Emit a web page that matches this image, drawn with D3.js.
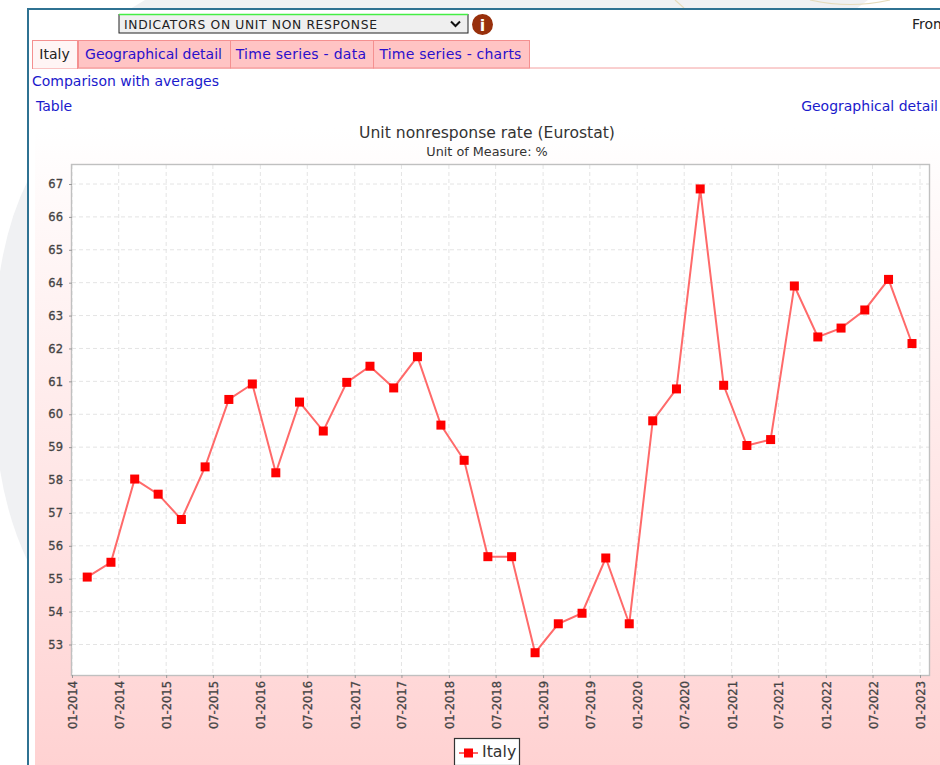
<!DOCTYPE html>
<html>
<head>
<meta charset="utf-8">
<script src="https://cdn.jsdelivr.net/npm/d3@7"></script>
<style>
html,body{margin:0;padding:0;background:#fff;overflow:hidden}
svg{display:block}
text{font-family:"DejaVu Sans",sans-serif}
</style>
</head>
<body>
<svg id="c" width="940" height="765"></svg>
<script>
const chartTitle = "Unit nonresponse rate (Eurostat)";
const chartSubtitle = "Unit of Measure: %";
const seriesName = "Italy";
const periods = ["2014-03","2014-06","2014-09","2014-12","2015-03","2015-06","2015-09","2015-12","2016-03","2016-06","2016-09","2016-12","2017-03","2017-06","2017-09","2017-12","2018-03","2018-06","2018-09","2018-12","2019-03","2019-06","2019-09","2019-12","2020-03","2020-06","2020-09","2020-12","2021-03","2021-06","2021-09","2021-12","2022-03","2022-06","2022-09","2022-12"];
const values = [55.05,55.5,58.03,57.57,56.8,58.4,60.45,60.92,58.22,60.37,59.49,60.97,61.46,60.8,61.75,59.67,58.6,55.67,55.67,52.75,53.63,53.95,55.63,53.63,59.8,60.77,66.85,60.88,59.05,59.23,63.9,62.35,62.62,63.17,64.1,62.15];
const xTickLabels = ["01-2014","07-2014","01-2015","07-2015","01-2016","07-2016","01-2017","07-2017","01-2018","07-2018","01-2019","07-2019","01-2020","07-2020","01-2021","07-2021","01-2022","07-2022","01-2023"];
const yTickValues = [53,54,55,56,57,58,59,60,61,62,63,64,65,66,67];
const tabLabels = ["Italy","Geographical detail","Time series - data","Time series - charts"];
const tabEdges = [32,78,230,373,529];
const tabSpacing = [0,0,0.28,0.22];

const svg = d3.select("#c");
const defs = svg.append("defs");
const grad = defs.append("linearGradient").attr("id","bg").attr("x1",0).attr("x2",0).attr("y1",0).attr("y2",1);
grad.append("stop").attr("offset","0%").attr("stop-color","#ffffff");
grad.append("stop").attr("offset","100%").attr("stop-color","#ffd2d2");

// page backdrop
svg.append("path").attr("d","M145,0H868L856,9H130Z").attr("fill","#f0f1f3");
svg.append("path").attr("d","M675,0L684,8").attr("fill","none").attr("stroke","#e6dcbc").attr("stroke-width",1.2);
svg.append("path").attr("d","M810,0Q850,9 890,0").attr("fill","none").attr("stroke","#e6dcbc").attr("stroke-width",1.2);
svg.append("path").attr("d","M28,180Q8,220 0,272V470Q8,520 28,562Z").attr("fill","#f0f1f3");

// content panel
svg.append("rect").attr("x",28).attr("y",9).attr("width",912).attr("height",756).attr("fill","#fff");
svg.append("path").attr("d","M28,765V9H940").attr("fill","none").attr("stroke","#2f7292").attr("stroke-width",2);

// selector
const sel = svg.append("g");
sel.append("rect").attr("x",119).attr("y",14.5).attr("width",349).attr("height",18.5).attr("fill","#efefef").attr("stroke","#222");
sel.append("line").attr("x1",119).attr("x2",468).attr("y1",14.5).attr("y2",14.5).attr("stroke","#44ee44").attr("stroke-width",1.5);
sel.append("text").attr("x",124).attr("y",28.5).attr("font-size",12.3).attr("letter-spacing",0.65).attr("fill","#222").text("INDICATORS ON UNIT NON RESPONSE");
sel.append("path").attr("d","M451,21.5l4.5,4.5l4.5,-4.5").attr("fill","none").attr("stroke","#111").attr("stroke-width",2);
svg.append("circle").attr("cx",482.5).attr("cy",24.5).attr("r",10.5).attr("fill","#98300c");
svg.append("text").attr("x",482.5).attr("y",30.5).attr("text-anchor","middle").attr("font-size",16).attr("font-weight","bold").attr("fill","#fff").text("i");
svg.append("text").attr("x",912).attr("y",29).attr("font-size",14).attr("fill","#222").text("From");

// tabs
svg.append("line").attr("x1",32).attr("x2",940).attr("y1",68).attr("y2",68).attr("stroke","#f4a0a0");
tabLabels.forEach((t,i)=>{
  const x0=tabEdges[i], x1=tabEdges[i+1];
  svg.append("rect").attr("x",x0+.5).attr("y",40.5).attr("width",x1-x0-1+(i===0?0:1)).attr("height",i===0?28:27.5)
    .attr("fill",i===0?"#fff5f5":"#ffc4c4").attr("stroke","#f49090");
  svg.append("text").attr("x",(x0+x1)/2-0.5).attr("y",59).attr("text-anchor","middle").attr("font-size",14)
    .attr("letter-spacing",tabSpacing[i]).attr("fill",i===0?"#222":"#2a10cc").text(t);
});
svg.append("line").attr("x1",33).attr("x2",77).attr("y1",68).attr("y2",68).attr("stroke","#fff5f5");
const link=(x,y,t,a)=>svg.append("text").attr("x",x).attr("y",y).attr("text-anchor",a||"start").attr("font-size",14).attr("fill","#1a1acc").text(t);
link(32,86,"Comparison with averages");
link(36,111,"Table");
link(938,111,"Geographical detail","end");

// chart background
svg.append("rect").attr("x",35).attr("y",128).attr("width",905).attr("height",637).attr("fill","url(#bg)");
svg.append("text").attr("x",487).attr("y",138).attr("text-anchor","middle").attr("font-size",15.6).attr("fill","#333").text(chartTitle);
svg.append("text").attr("x",487).attr("y",156).attr("text-anchor","middle").attr("font-size",12.8).attr("fill","#333").text(chartSubtitle);

// plot
const plotL=72,plotR=929,plotT=165,plotB=675;
const parseP=d3.utcParse("%Y-%m"), parseT=d3.utcParse("%m-%Y");
const x=d3.scaleUtc().domain([parseT("01-2014"),parseT("01-2023")]).range([72,920]);
const y=d3.scaleLinear().domain([53,67]).range([644.5,184]);
const xTicks=xTickLabels.map(parseT);

svg.append("rect").attr("x",plotL).attr("y",plotT).attr("width",plotR-plotL).attr("height",plotB-plotT).attr("fill","#fff");
const grid=svg.append("g").attr("stroke","#e4e4e4").attr("stroke-dasharray","4,3");
grid.selectAll("line.v").data(xTicks).join("line").attr("class","v").attr("x1",d=>x(d)).attr("x2",d=>x(d)).attr("y1",plotT).attr("y2",plotB);
grid.selectAll("line.h").data(yTickValues).join("line").attr("class","h").attr("x1",plotL).attr("x2",plotR).attr("y1",d=>y(d)).attr("y2",d=>y(d));
svg.append("rect").attr("x",plotL-.5).attr("y",plotT-.5).attr("width",plotR-plotL+1).attr("height",plotB-plotT+1).attr("fill","none").attr("stroke","#c0c0c0").attr("stroke-width",1.4);

const styleTicks = s => s.attr("font-size",11.5).attr("font-family",'"DejaVu Sans",sans-serif').attr("fill","#444").attr("stroke","#444").attr("stroke-width",0.3);

const gy=svg.append("g").attr("transform",`translate(${plotL},0)`)
  .call(d3.axisLeft(y).tickValues(yTickValues).tickSize(3).tickPadding(6).tickFormat(d3.format("d")));
gy.select(".domain").remove();
gy.selectAll("line").attr("stroke","#999");
styleTicks(gy.selectAll("text"));

const gx=svg.append("g").attr("transform",`translate(0,${plotB})`)
  .call(d3.axisBottom(x).tickValues(xTicks).tickSize(3).tickFormat(d3.utcFormat("%m-%Y")));
gx.select(".domain").remove();
gx.selectAll("line").attr("stroke","#999");
styleTicks(gx.selectAll("text"))
  .attr("text-anchor","end").attr("dy",0).attr("y",0).attr("x",0)
  .attr("transform","translate(4.5,6) rotate(-90)");

const pts=periods.map((p,i)=>({d:parseP(p),v:values[i]}));
svg.append("path").datum(pts).attr("fill","none").attr("stroke","#ff6a6a").attr("stroke-width",2)
  .attr("d",d3.line().x(d=>x(d.d)).y(d=>y(d.v)));
svg.selectAll("rect.pt").data(pts).join("rect").attr("class","pt")
  .attr("x",d=>x(d.d)-4.5).attr("y",d=>y(d.v)-4.5).attr("width",9).attr("height",9).attr("fill","#ff0000");

// legend
const lg=svg.append("g");
lg.append("rect").attr("x",454.5).attr("y",738.5).attr("width",65).attr("height",27).attr("fill","#fff").attr("stroke","#333").attr("stroke-width",1.2);
lg.append("line").attr("x1",459).attr("x2",478).attr("y1",753).attr("y2",753).attr("stroke","#ff6a6a").attr("stroke-width",2);
lg.append("rect").attr("x",464).attr("y",748.5).attr("width",9).attr("height",9).attr("fill","#ff0000");
lg.append("text").attr("x",482).attr("y",757).attr("font-size",15.8).attr("fill","#333").text(seriesName);
</script>
</body>
</html>
